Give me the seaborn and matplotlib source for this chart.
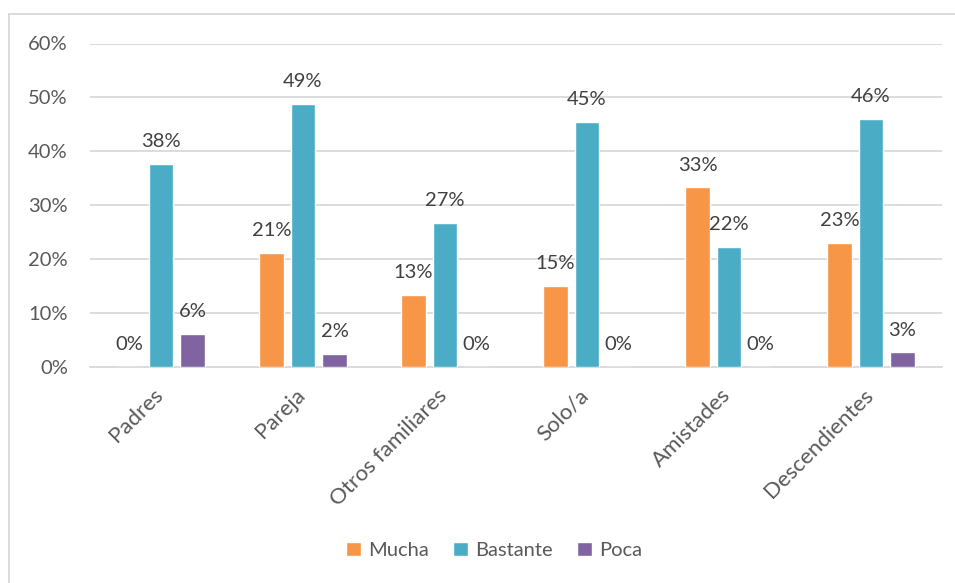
import pandas as pd
import matplotlib.pyplot as plt
import matplotlib.lines as mlines
import matplotlib.transforms as mtrans
import seaborn as sns

# categorias y valores (%)
categorias = ['Padres', 'Pareja', 'Otros familiares', 'Solo/a', 'Amistades', 'Descendientes']
mucha = [0.0, 21.1, 13.3, 15.1, 33.3, 23.0]
bastante = [37.6, 48.8, 26.8, 45.4, 22.3, 46.0]
poca = [6.2, 2.4, 0.0, 0.0, 0.0, 2.7]
series = ['Mucha', 'Bastante', 'Poca']
colores = ['#F79646', '#4BACC6', '#8064A2']


def main():
    df = pd.DataFrame({'categoria': categorias, 'Mucha': mucha, 'Bastante': bastante, 'Poca': poca})
    df = df.melt(id_vars='categoria', var_name='serie', value_name='valor')

    sns.set_style('white')
    plt.rcParams['font.family'] = ['Lato', 'DejaVu Sans']
    gris = '#595959'
    fs = 14.5

    fig = plt.figure(figsize=(9.55, 5.83), dpi=100)
    ax = fig.add_axes([90 / 955, 1 - 367 / 583, 852 / 955, 323.5 / 583])

    sns.barplot(data=df, x='categoria', y='valor', hue='serie', hue_order=series,
                order=categorias, palette=colores, width=0.665, gap=0.21,
                saturation=1, ax=ax, zorder=3)

    # etiquetas de datos
    for cont in ax.containers:
        labs = [f'{b.get_height():.0f}%' for b in cont]
        ax.bar_label(cont, labels=labs, padding=10, fontsize=fs, color='#404040')

    ax.set_ylim(0, 60)
    ax.set_yticks(range(0, 61, 10))
    ax.set_yticklabels([f'{v}%' for v in range(0, 61, 10)], fontsize=fs, color=gris)
    ax.yaxis.grid(True, color='#D9D9D9', linewidth=1.3, zorder=0)
    ax.tick_params(axis='y', length=0, pad=16)
    ax.tick_params(axis='x', length=0, pad=13)
    ax.set_xticks(range(len(categorias)))
    ax.set_xticklabels(categorias, rotation=45, ha='right', rotation_mode='anchor',
                       fontsize=16, color=gris)
    desplaz = mtrans.ScaledTranslation(-6 / 72, 0, fig.dpi_scale_trans)
    for lab in ax.get_xticklabels():
        lab.set_transform(lab.get_transform() + desplaz)
    ax.set_xlabel('')
    ax.set_ylabel('')
    for s in ['top', 'right', 'left']:
        ax.spines[s].set_visible(False)
    ax.spines['bottom'].set_color('#D9D9D9')
    ax.spines['bottom'].set_linewidth(1.3)
    ax.set_xlim(-0.5, len(categorias) - 0.5)

    sns.move_legend(ax, 'center', bbox_to_anchor=(0.474, -0.567), ncol=3, frameon=False,
                    title=None, fontsize=fs, handlelength=0.75, handleheight=0.75,
                    handletextpad=0.35, columnspacing=1.2, labelcolor=gris)

    # borde del area del grafico
    fig.add_artist(mlines.Line2D([9 / 955, 1], [1 - 14 / 583, 1 - 14 / 583], color='#D9D9D9', lw=1.3))
    fig.add_artist(mlines.Line2D([9 / 955, 9 / 955], [0, 1 - 14 / 583], color='#D9D9D9', lw=1.3))

    fig.savefig('out.png', dpi=100)


if __name__ == '__main__':
    main()
